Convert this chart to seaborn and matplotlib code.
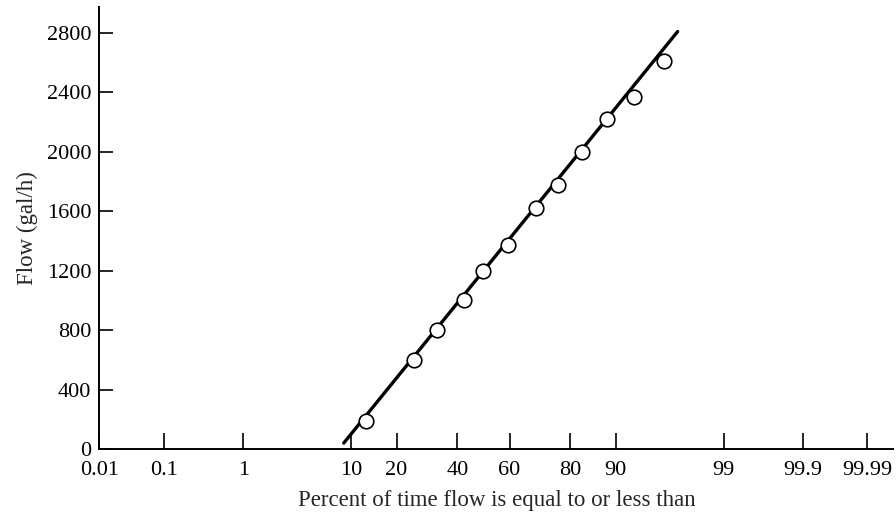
import numpy as np
import pandas as pd
import matplotlib
matplotlib.use("Agg")
import matplotlib.pyplot as plt
import seaborn as sns
from statistics import NormalDist

percent = [12.8, 25.0, 32.8, 42.5, 50.0, 59.4, 69.6, 76.5, 83.1, 88.5, 92.7, 96.0]
flow = [190, 600, 800, 1000, 1200, 1370, 1620, 1780, 2000, 2220, 2370, 2610]

# fitted straight line on probability paper
fit_percent = [8.8, 97.0]
fit_flow = [40, 2810]

x_ticks = [0.01, 0.1, 1, 10, 20, 40, 60, 80, 90, 99, 99.9, 99.99]
x_labels = ["0.01", "0.1", "1", "10", "20", "40", "60", "80", "90", "99", "99.9", "99.99"]
y_ticks = [0, 400, 800, 1200, 1600, 2000, 2400, 2800]

_nd = NormalDist()
_ppf = np.vectorize(lambda p: _nd.inv_cdf(p), otypes=[float])
_cdf = np.vectorize(lambda z: _nd.cdf(z), otypes=[float])


def prob_forward(p):
    p = np.clip(np.asarray(p, dtype=float) / 100.0, 1e-7, 1 - 1e-7)
    return _ppf(p)


def prob_inverse(z):
    return _cdf(np.asarray(z, dtype=float)) * 100.0


sns.set_style("ticks")
plt.rcParams["font.family"] = ["Liberation Serif", "DejaVu Serif"]

fig = plt.figure(figsize=(8.96, 5.2), dpi=100)
ax = fig.add_axes([0.111, 0.1365, 0.886, 0.85])
ax.set_xscale("function", functions=(prob_forward, prob_inverse))

df = pd.DataFrame({"percent": percent, "flow": flow})
fit = pd.DataFrame({"percent": fit_percent, "flow": fit_flow})

sns.lineplot(data=fit, x="percent", y="flow", ax=ax, color="black",
             linewidth=2.4, zorder=2)
sns.scatterplot(data=df, x="percent", y="flow", ax=ax, s=110,
                facecolor="white", edgecolor="black", linewidth=1.2, zorder=3)

ax.set_xlim(0.0105, 99.9964)
ax.set_ylim(0, 2975)
ax.set_xticks(x_ticks, x_labels)
ax.set_yticks(y_ticks)
ax.xaxis.set_minor_locator(matplotlib.ticker.NullLocator())

ax.tick_params(axis="x", direction="in", length=11.5, width=1.2, pad=8.5,
               labelsize=16, colors="black")
ax.tick_params(axis="y", direction="in", length=10, width=1.2, pad=6,
               labelsize=16, colors="black")

ax.set_xlabel("Percent of time flow is equal to or less than", fontsize=16.5, labelpad=7)
ax.set_ylabel("Flow (gal/h)", fontsize=16.5, labelpad=6)

sns.despine(ax=ax)
for side in ("left", "bottom"):
    ax.spines[side].set_linewidth(1.4)
    ax.spines[side].set_color("black")

fig.savefig("out.png", dpi=100, facecolor="white")
